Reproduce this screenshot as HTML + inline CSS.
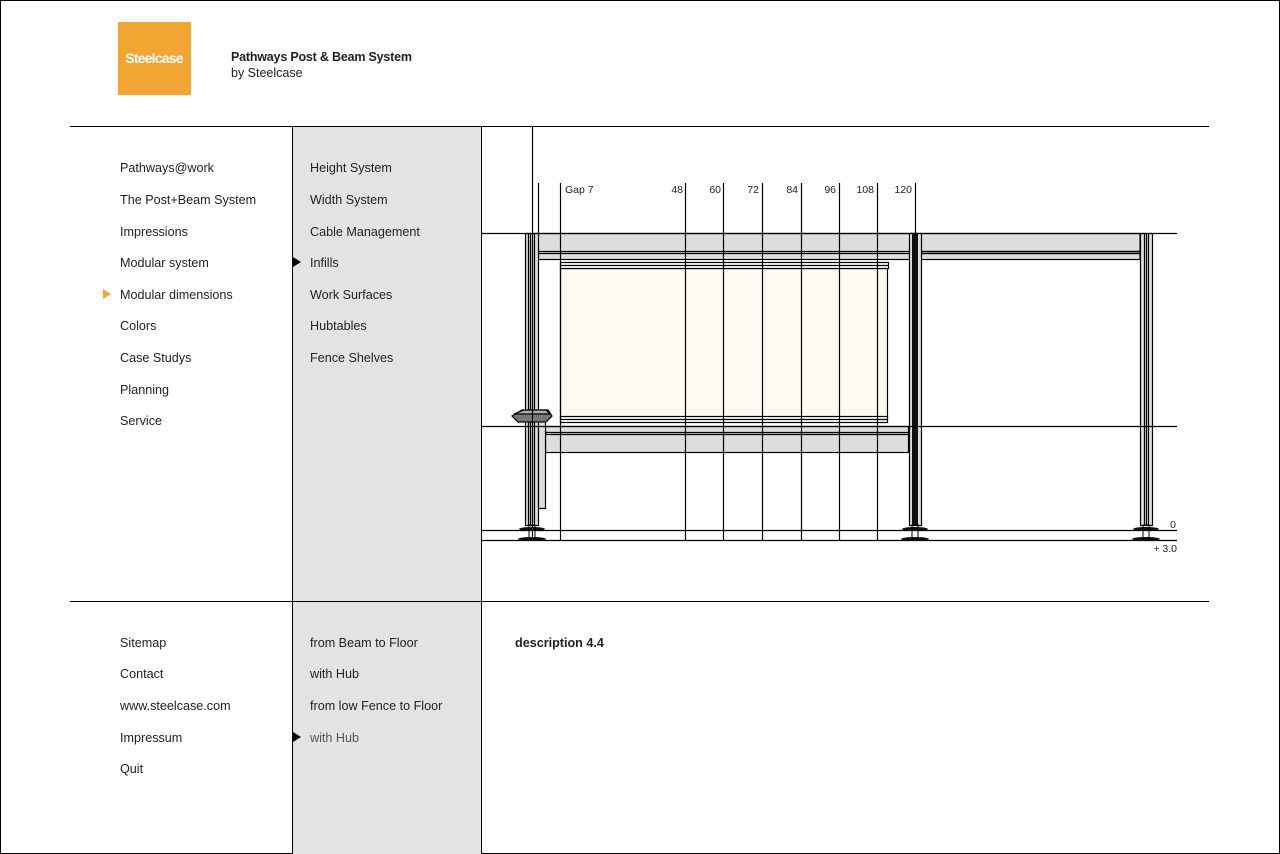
<!DOCTYPE html>
<html><head><meta charset="utf-8"><style>
html,body{margin:0;padding:0;background:#fff}
svg{display:block}
text{font-family:"Liberation Sans",sans-serif;fill:#222}
</style></head><body>
<svg width="1280" height="854" viewBox="0 0 1280 854" xmlns="http://www.w3.org/2000/svg">
<rect x="0.5" y="0.5" width="1279" height="853" fill="#fff" stroke="#000"/>
<rect x="118" y="22" width="73" height="73" fill="#f2a533"/>
<text x="154" y="63" text-anchor="middle" font-size="14" font-weight="bold" style="fill:#fff" letter-spacing="-0.8">Steelcase</text>
<text x="231" y="61" font-size="12.5" font-weight="bold" letter-spacing="-0.2">Pathways Post &amp; Beam System</text>
<text x="231" y="77" font-size="12.5">by Steelcase</text>
<rect x="292" y="126" width="189" height="728" fill="#e4e3e2"/>
<line x1="70" y1="126.5" x2="1209" y2="126.5" stroke="#000"/>
<line x1="70" y1="601.5" x2="1209" y2="601.5" stroke="#000"/>
<line x1="292.5" y1="126" x2="292.5" y2="854" stroke="#000"/>
<line x1="481.5" y1="126" x2="481.5" y2="854" stroke="#000"/>
<g font-size="12.6">
<text x="120" y="172">Pathways@work</text>
<text x="120" y="204">The Post+Beam System</text>
<text x="120" y="236">Impressions</text>
<text x="120" y="267">Modular system</text>
<text x="120" y="299">Modular dimensions</text>
<text x="120" y="330">Colors</text>
<text x="120" y="362">Case Studys</text>
<text x="120" y="394">Planning</text>
<text x="120" y="425">Service</text>
<text x="310" y="172">Height System</text>
<text x="310" y="204">Width System</text>
<text x="310" y="236">Cable Management</text>
<text x="310" y="267">Infills</text>
<text x="310" y="299">Work Surfaces</text>
<text x="310" y="330">Hubtables</text>
<text x="310" y="362">Fence Shelves</text>
<text x="120" y="647">Sitemap</text>
<text x="120" y="678">Contact</text>
<text x="120" y="710">www.steelcase.com</text>
<text x="120" y="742">Impressum</text>
<text x="120" y="773">Quit</text>
<text x="310" y="647">from Beam to Floor</text>
<text x="310" y="678">with Hub</text>
<text x="310" y="710">from low Fence to Floor</text>
<text x="310" y="742" style="fill:#555">with Hub</text>
<text x="515" y="647" font-weight="bold">description 4.4</text>
</g>
<polygon points="103,289 111,294 103,299" fill="#f2a533"/>
<polygon points="293,257 301,262 293,267" fill="#000"/>
<polygon points="293,732 301,737 293,742" fill="#000"/>
<g stroke="#000" stroke-width="1.2">
<rect x="538" y="233.5" width="602" height="26" fill="#dedcdc"/>
<line x1="538" y1="251.5" x2="1140" y2="251.5"/>
<line x1="538" y1="253.5" x2="1140" y2="253.5"/>
<rect x="560.5" y="268.5" width="327" height="150" fill="#fdfaf0"/>
<rect x="560.5" y="262.5" width="328" height="6" fill="#fff"/>
<line x1="560" y1="265.5" x2="888" y2="265.5"/>
<rect x="560.5" y="416.5" width="327" height="6" fill="#fff"/>
<line x1="560" y1="419.5" x2="888" y2="419.5"/>
<rect x="545.5" y="426.5" width="363" height="26" fill="#dedcdc"/>
<line x1="545" y1="432.5" x2="908" y2="432.5"/>
<line x1="545" y1="434.5" x2="908" y2="434.5"/>
<rect x="525.5" y="233.5" width="13" height="292" fill="#dedcdc"/>
<line x1="528.5" y1="233" x2="528.5" y2="525"/>
<line x1="530.5" y1="233" x2="530.5" y2="525"/>
<line x1="534.5" y1="233" x2="534.5" y2="525"/>
<rect x="538.5" y="420.5" width="7" height="88" fill="#dedcdc"/>
<path d="M512,416 L522,410 L548,410 L552,416 L546,422 L518,422 Z" fill="#777"/>
<path d="M514,414 L524,410 L546,410 L550,414 Z" fill="#aaa"/>
<rect x="909.5" y="233.5" width="12" height="292" fill="#dedcdc"/>
<rect x="912" y="233" width="6" height="292" fill="#111" stroke="none"/>
<rect x="1140.5" y="233.5" width="12" height="292" fill="#dedcdc"/>
<line x1="1144.5" y1="233" x2="1144.5" y2="525"/>
<line x1="1146.5" y1="233" x2="1146.5" y2="525"/>
<line x1="1148.5" y1="233" x2="1148.5" y2="525"/>
<line x1="921" y1="251.5" x2="1140" y2="251.5"/>
<line x1="921" y1="253.5" x2="1140" y2="253.5"/>
<line x1="481" y1="233.5" x2="1177" y2="233.5"/>
<line x1="481" y1="426.5" x2="1177" y2="426.5"/>
<line x1="481" y1="530.5" x2="1177" y2="530.5"/>
<line x1="481" y1="540.5" x2="1177" y2="540.5"/>
<line x1="532.5" y1="126" x2="532.5" y2="540"/>
<line x1="538.5" y1="183" x2="538.5" y2="233"/>
<line x1="560.5" y1="183" x2="560.5" y2="540"/>
<line x1="685.5" y1="183" x2="685.5" y2="540"/>
<line x1="723.5" y1="183" x2="723.5" y2="540"/>
<line x1="762.5" y1="183" x2="762.5" y2="540"/>
<line x1="801.5" y1="183" x2="801.5" y2="540"/>
<line x1="839.5" y1="183" x2="839.5" y2="540"/>
<line x1="877.5" y1="183" x2="877.5" y2="540"/>
<line x1="915.5" y1="183" x2="915.5" y2="233"/>
</g>
<g fill="#111">
<ellipse cx="532" cy="529" rx="13" ry="2"/><ellipse cx="532" cy="539" rx="14" ry="2"/>
<rect x="529" y="525" width="6" height="14" fill="none" stroke="#000"/>
<ellipse cx="915" cy="529" rx="13" ry="2"/><ellipse cx="915" cy="539" rx="14" ry="2"/>
<rect x="912" y="525" width="6" height="14" fill="none" stroke="#000"/>
<ellipse cx="1146" cy="529" rx="13" ry="2"/><ellipse cx="1146" cy="539" rx="14" ry="2"/>
<rect x="1143" y="525" width="6" height="14" fill="none" stroke="#000"/>
</g>
<g font-size="10.5">
<text x="565" y="193">Gap 7</text>
<text x="683" y="193" text-anchor="end">48</text>
<text x="721" y="193" text-anchor="end">60</text>
<text x="759" y="193" text-anchor="end">72</text>
<text x="798" y="193" text-anchor="end">84</text>
<text x="836" y="193" text-anchor="end">96</text>
<text x="874" y="193" text-anchor="end">108</text>
<text x="912" y="193" text-anchor="end">120</text>
<text x="1176" y="528" text-anchor="end">0</text>
<text x="1177" y="552" text-anchor="end">+ 3.0</text>
</g>
</svg>
</body></html>
